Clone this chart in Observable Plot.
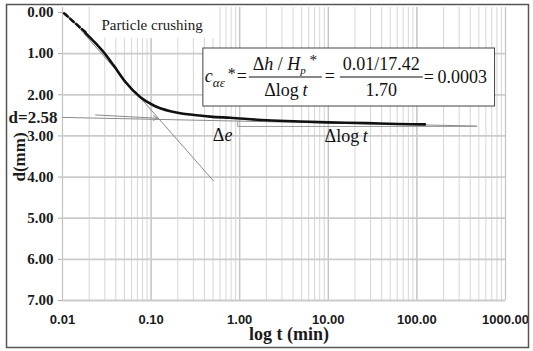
<!DOCTYPE html>
<html><head><meta charset="utf-8">
<script src="https://cdn.jsdelivr.net/npm/d3@7"></script>
<script src="https://cdn.jsdelivr.net/npm/@observablehq/plot@0.6"></script>
<style>
html,body{margin:0;padding:0;background:#fff;}
#chart{position:relative;width:533px;height:351px;}
</style></head><body><div id="chart"></div>
<script>
// ---- data ----
const xTickValues = [0.01, 0.1, 1, 10, 100, 1000];
const yTickValues = [0, 1, 2, 3, 4, 5, 6, 7];
const yGridValues = [1, 2, 3, 4, 5, 6, 7];
const dashT = [0.0104, 0.0182];
const dashD = [0.02, 0.48];
const curveT = [0.0182, 0.0192, 0.0207, 0.0240, 0.0280, 0.0379, 0.0513, 0.0757, 0.107, 0.165, 0.213, 0.278, 0.466, 0.78, 2.02, 4.8, 10, 27.4, 60, 123];
const curveD = [0.50, 0.55, 0.62, 0.76, 0.92, 1.29, 1.69, 2.06, 2.26, 2.40, 2.45, 2.48, 2.53, 2.56, 2.62, 2.65, 2.67, 2.69, 2.71, 2.72];
const steepT = [0.0110, 0.504];
const steepD = [0.02, 4.09];
const tailT = [0.01, 473];
const tailD = [2.55, 2.76];
const bracketT = [0.95, 0.95, 473];
const bracketD = [2.64, 2.77, 2.77];
const arrowT = [0.0236, 0.118];
const arrowD = [2.49, 2.57];
const boxT = [0.389, 762];
const boxD = [0.875, 2.285];
const labelBoxT = [0.0237, 0.518];
const labelBoxD = [-0.15, 0.63];
const crushLabel = {text: "Particle crushing", t: 0.0275, d: 0.32};
const dLabel = {text: "d=2.58", t: 0.01, d: 2.55};
const deLabel = {t: 0.504, d: 3.14};
const dlogLabel = {t: 9.2, d: 3.15};
const xLabel = "log t (min)";
const yLabel = "d(mm)";

const serif = "'Liberation Serif', 'Times New Roman', serif";
const sans = "'Liberation Sans', Arial, sans-serif";

const gridT = d3.scaleLog().domain([0.01, 1000]).ticks();
const dashed = dashT.map((t, i) => ({t, d: dashD[i]}));
const curve = curveT.map((t, i) => ({t, d: curveD[i]}));
const steep = steepT.map((t, i) => ({t, d: steepD[i]}));
const tail = tailT.map((t, i) => ({t, d: tailD[i]}));
const bracket = bracketT.map((t, i) => ({t, d: bracketD[i]}));

const plot = Plot.plot({
  width: 533, height: 351,
  marginLeft: 62, marginRight: 28, marginTop: 12, marginBottom: 51,
  x: {type: "log", domain: [0.01, 1000]},
  y: {domain: [0, 7], reverse: true},
  style: {background: "white", overflow: "visible", fontFamily: sans},
  marks: [
    Plot.ruleX(gridT, {y1: -0.12, y2: 7, stroke: "#d6d6d6", strokeWidth: 1}),
    Plot.ruleX(xTickValues, {y1: -0.12, y2: 7, stroke: "#c2c2c2", strokeWidth: 1.2}),
    Plot.ruleY(yGridValues, {x1: 0.01, x2: 1000, stroke: "#cbcbcb", strokeWidth: 1.8}),
    Plot.axisX({ticks: xTickValues, tickFormat: d3.format(".2f"), tickSize: 0, tickPadding: 14, label: null,
      fontSize: 13, fontWeight: "bold", fontFamily: sans, fill: "#1a1a1a"}),
    Plot.axisY({ticks: yTickValues, tickFormat: d3.format(".2f"), tickSize: 4, tickPadding: 5, label: null,
      stroke: "#aaa", fill: "#1a1a1a", fontSize: 15, fontWeight: "bold", fontFamily: serif}),
    Plot.rect([{}], {x1: labelBoxT[0], x2: labelBoxT[1], y1: labelBoxD[0], y2: labelBoxD[1], fill: "white"}),
    Plot.text([crushLabel], {x: "t", y: "d", text: "text", textAnchor: "start", fontSize: 15, fontFamily: serif, fill: "#1a1a1a"}),
    Plot.line(steep, {x: "t", y: "d", stroke: "#8a8a8a", strokeWidth: 1}),
    Plot.line(tail, {x: "t", y: "d", stroke: "#8a8a8a", strokeWidth: 1}),
    Plot.line(bracket, {x: "t", y: "d", stroke: "#9a9a9a", strokeWidth: 1}),
    Plot.arrow([{}], {x1: arrowT[0], y1: arrowD[0], x2: arrowT[1], y2: arrowD[1], stroke: "#8a8a8a", strokeWidth: 1, headLength: 7}),
    Plot.line(dashed, {x: "t", y: "d", stroke: "#111", strokeWidth: 2.6, strokeDasharray: "5,3"}),
    Plot.line(curve, {x: "t", y: "d", stroke: "#111", strokeWidth: 2.6, curve: "monotone-x"}),
    Plot.rect([{}], {x1: boxT[0], x2: boxT[1], y1: boxD[0], y2: boxD[1], fill: "white", stroke: "#444", strokeWidth: 1}),
    Plot.text([dLabel], {x: "t", y: "d", text: "text", textAnchor: "end", dx: -5, fontSize: 17, fontWeight: "bold", fontFamily: serif, fill: "#1a1a1a"}),
    Plot.text([xLabel], {frameAnchor: "bottom", lineAnchor: "middle", dx: 5, dy: 34, fontSize: 18, fontWeight: "bold", fontFamily: serif, fill: "#1a1a1a"}),
    Plot.text([yLabel], {frameAnchor: "left", rotate: -90, dx: -43, dy: 25, fontSize: 17, fontWeight: "bold", fontFamily: serif, fill: "#1a1a1a"})
  ]
});
document.getElementById("chart").appendChild(plot);

const sx = plot.scale("x"), sy = plot.scale("y");
const X = v => sx.apply(v), Y = v => sy.apply(v);
const svg = d3.select(plot);

function txt(g, x, y, size, anchor) {
  return g.append("text").attr("x", x).attr("y", y).style("font-family", serif)
    .attr("font-size", size).attr("fill", "#111").attr("text-anchor", anchor || "start");
}

// formula inside the box
const g = svg.append("g").attr("transform", `translate(${X(boxT[0])},${Y(boxD[0])})`);
txt(g, 2, 34, 18).attr("font-style", "italic").text("c");
txt(g, 10, 39, 13).attr("font-style", "italic").text("αε");
txt(g, 25, 31, 16).text("*");
txt(g, 34, 34, 18).text("=");
g.append("line").attr("x1", 46).attr("x2", 119).attr("y1", 29).attr("y2", 29).attr("stroke", "#111").attr("stroke-width", 1);
const n1 = txt(g, 82, 22, 18, "middle");
n1.append("tspan").text("Δ");
n1.append("tspan").attr("font-style", "italic").text("h");
n1.append("tspan").text(" / ");
n1.append("tspan").attr("font-style", "italic").text("H");
n1.append("tspan").attr("font-style", "italic").attr("font-size", 11).attr("dy", 4).text("p");
n1.append("tspan").attr("font-size", 15).attr("dy", -9).text(" *");
const d1 = txt(g, 83, 48, 18, "middle");
d1.append("tspan").text("Δlog\u2009");
d1.append("tspan").attr("font-style", "italic").text("t");
txt(g, 122, 34, 18).text("=");
g.append("line").attr("x1", 137).attr("x2", 220).attr("y1", 29).attr("y2", 29).attr("stroke", "#111").attr("stroke-width", 1);
txt(g, 178.5, 22, 18, "middle").text("0.01/17.42");
txt(g, 178.5, 48, 18, "middle").text("1.70");
txt(g, 221, 35, 18).text("=\u20090.0003");

// Δe and Δlog t labels
const de = txt(svg, X(deLabel.t), Y(deLabel.d), 18);
de.append("tspan").text("Δ");
de.append("tspan").attr("font-style", "italic").text("e");
const dl = txt(svg, X(dlogLabel.t), Y(dlogLabel.d), 18);
dl.append("tspan").text("Δlog\u2009");
dl.append("tspan").attr("font-style", "italic").text("t");

// outer frame
svg.append("rect").attr("x", 6.5).attr("y", 4.5).attr("width", 522).attr("height", 343)
  .attr("fill", "none").attr("stroke", "#555").attr("stroke-width", 1.5);
</script></body></html>
